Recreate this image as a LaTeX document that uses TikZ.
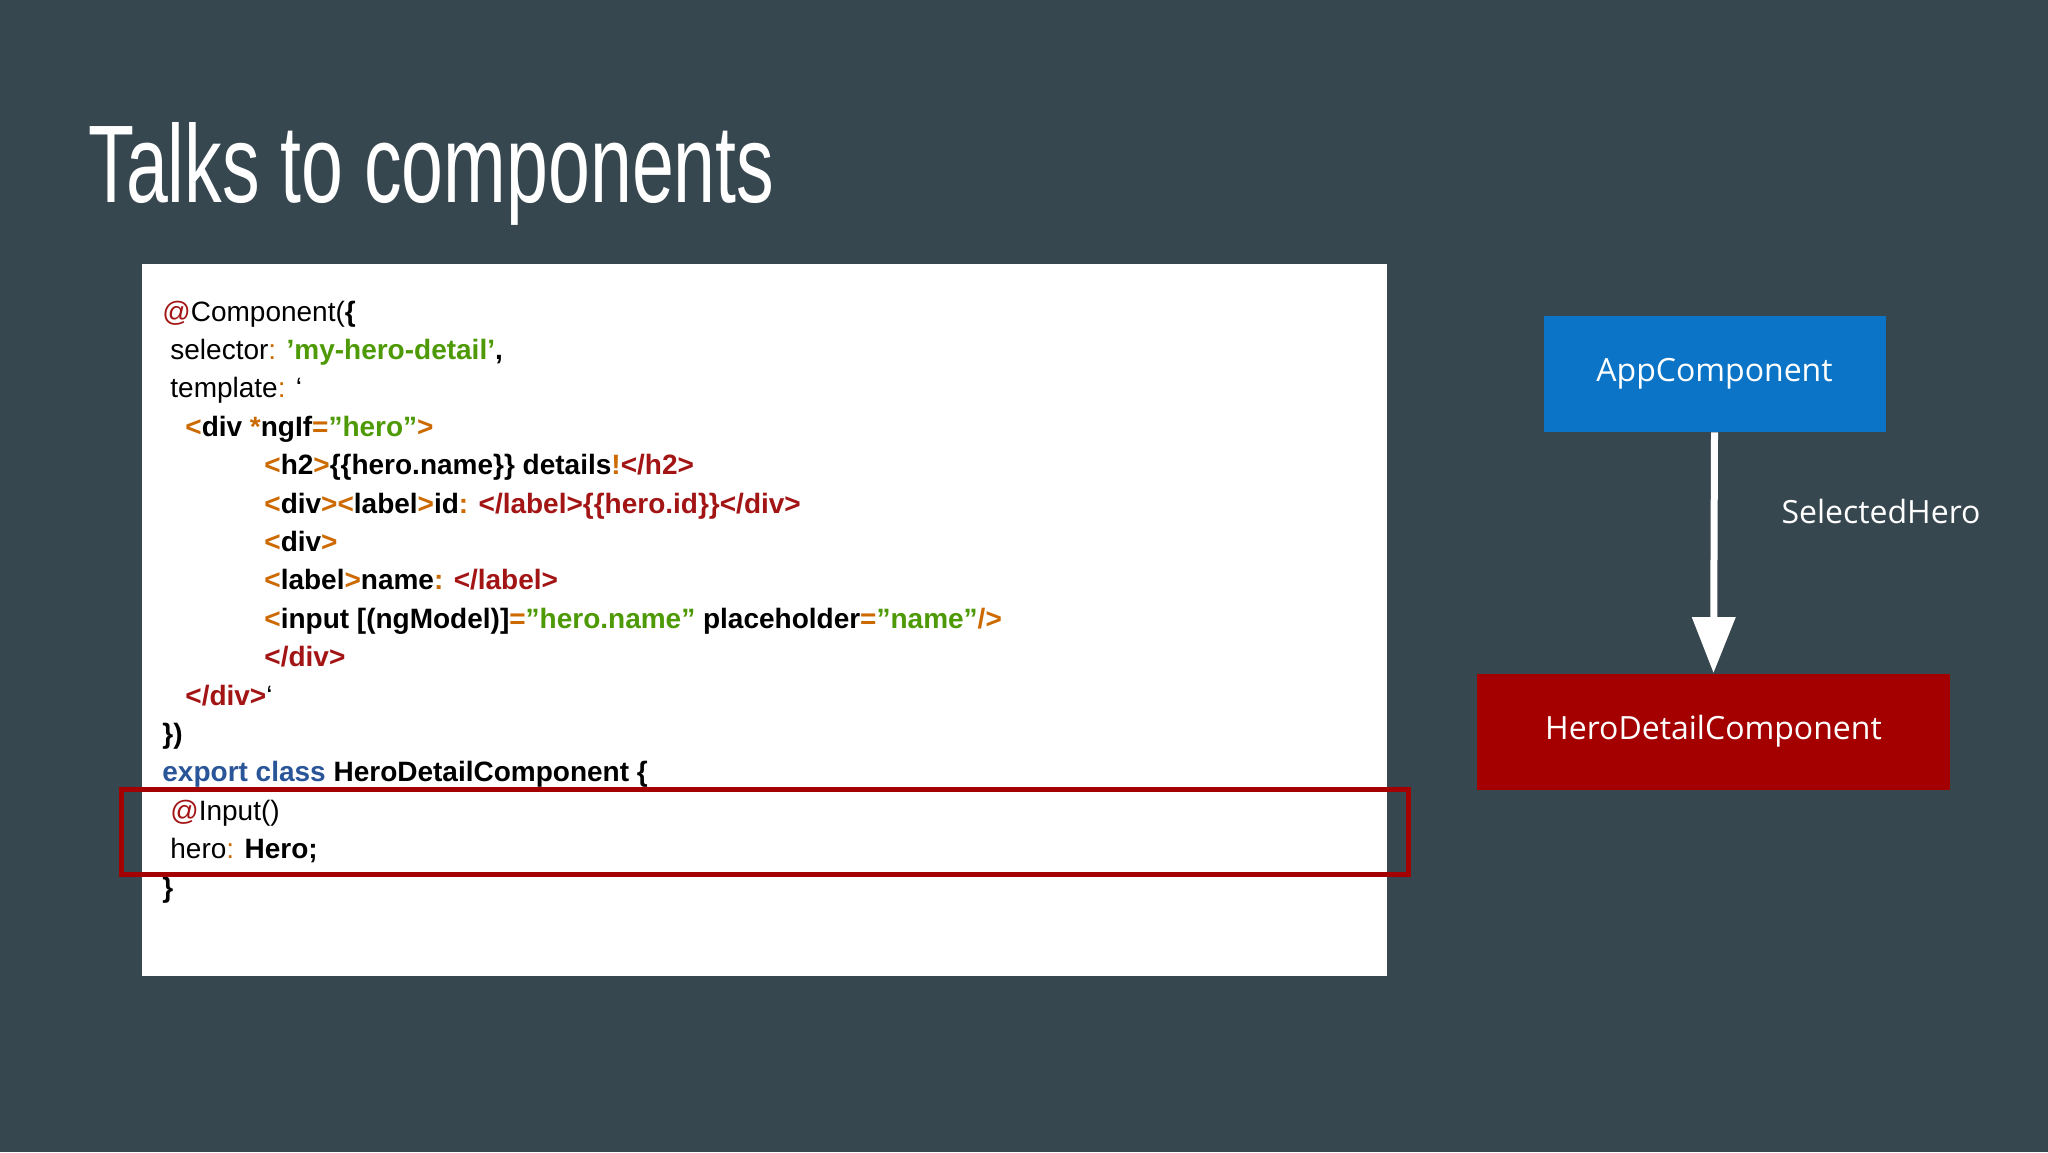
\documentclass[tikz,border=0pt]{standalone}
\usepackage{fontspec}
\setmainfont{Liberation Sans}
\newfontfamily\uifont{Open Sans}
\usetikzlibrary{arrows.meta}
\definecolor{bg}{HTML}{37474F}
\definecolor{cor}{HTML}{CC6A00}
\definecolor{cgr}{HTML}{4E9A06}
\definecolor{crd}{HTML}{A31515}
\definecolor{cbl}{HTML}{2A5598}
\definecolor{appblue}{HTML}{0B74C6}
\definecolor{herored}{HTML}{A50000}
\newcommand{\cO}[1]{\textcolor{cor}{#1}}
\newcommand{\cG}[1]{\textcolor{cgr}{#1}}
\newcommand{\cR}[1]{\textcolor{crd}{#1}}
\newcommand{\cB}[1]{\textcolor{cbl}{#1}}
\newcommand{\dq}{\symbol{34}}
\newcommand{\sq}{\symbol{39}}
\newcommand{\bq}{\symbol{96}}
\tikzset{
  codeline/.style={anchor=base west,inner sep=0pt,font=\fontsize{14}{16}\selectfont,text=black},
  compbox/.style={minimum width=#1,minimum height=58pt,inner sep=0pt,text=white,font=\uifont\fontsize{16}{18}\selectfont},
}
\begin{document}
\begin{tikzpicture}[x=0.5pt,y=-0.5pt]
\fill[bg] (0,0) rectangle (2048,1152);
\useasboundingbox (0,0) rectangle (2048,1152);
\node[anchor=base west,inner sep=0pt,text=white] (title) at (88,202)
  {\resizebox{343pt}{40pt}{\fontsize{40}{44}\selectfont Talks to components}};
\fill[white] (142,264) rectangle (1387,976);
\def\ls{38.4}
\node[codeline] (l1) at (162,321) {\cR{@}Component(\textbf{\{}};
\node[codeline] (l2) at (170,321+1*\ls) {selector\cO{:} \textbf{\cG{\sq my-hero-detail\sq},}};
\node[codeline] (l3) at (170,321+2*\ls) {template\cO{:} \bq};
\node[codeline] (l4) at (185,321+3*\ls) {\bfseries\cO{<}div \cO{*}ngIf\cO{=}\cG{\dq hero\dq}\cO{>}};
\node[codeline] (l5) at (264,321+4*\ls) {\bfseries\cO{<}h2\cO{>}\{\{hero.name\}\} details\cO{!}\cR{</h2>}};
\node[codeline] (l6) at (264,321+5*\ls) {\bfseries\cO{<}div\cO{>}\cO{<}label\cO{>}id\cO{:} \cR{</label>\{\{hero.id\}\}</div>}};
\node[codeline] (l7) at (264,321+6*\ls) {\bfseries\cO{<}div\cO{>}};
\node[codeline] (l8) at (264,321+7*\ls) {\bfseries\cO{<}label\cO{>}name\cO{:} \cR{</label>}};
\node[codeline] (l9) at (264,321+8*\ls) {\bfseries\cO{<}input [(ngModel)]\cO{=}\cG{\dq hero.name\dq} placeholder\cO{=}\cG{\dq name\dq}\cO{/>}};
\node[codeline] (l10) at (264,321+9*\ls) {\bfseries\cR{</div>}};
\node[codeline] (l11) at (185,321+10*\ls) {\bfseries\cR{</div>}\mdseries\bq};
\node[codeline] (l12) at (162,321+11*\ls) {\textbf{\})}};
\node[codeline] (l13) at (162,321+12*\ls) {\bfseries\cB{export class} HeroDetailComponent \{};
\node[codeline] (l14) at (170,321+13*\ls) {\cR{@}Input()};
\node[codeline] (l15) at (170,321+14*\ls) {hero\cO{:} \textbf{Hero;}};
\node[codeline] (l16) at (162,321+15*\ls) {\textbf{\}}};
\draw[herored,line width=2.5pt] (121,789) rectangle (1408,874);
\node[compbox=171pt,fill=appblue] (app) at (1714.5,374) {AppComponent};
\node[compbox=236.5pt,fill=herored] (hero) at (1713.5,731.5) {HeroDetailComponent};
\draw[white,line width=3.5pt,-{Triangle[width=21pt,length=28pt]}] (app.south) -- (hero.north);
\node[text=white,font=\uifont\fontsize{16}{18}\selectfont] (lbl) at (1881,511) {SelectedHero};
\end{tikzpicture}
\end{document}
